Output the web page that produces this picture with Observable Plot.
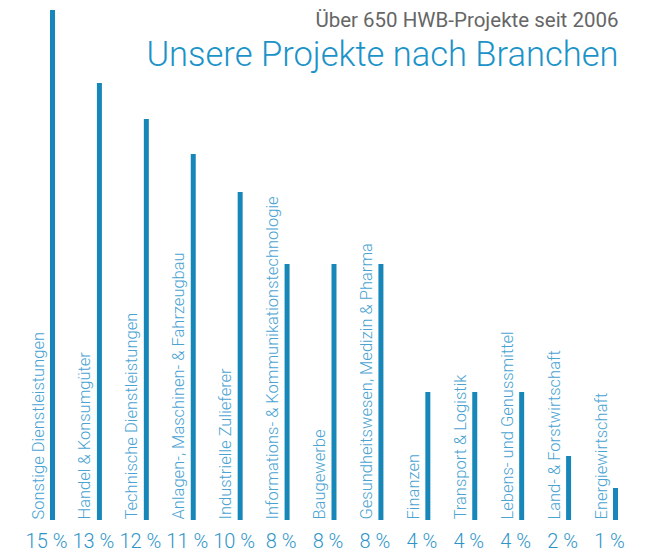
<!DOCTYPE html>
<html>
<head>
<meta charset="utf-8">
<script src="https://cdn.jsdelivr.net/npm/d3@7"></script>
<script src="https://cdn.jsdelivr.net/npm/@observablehq/plot@0.6"></script>
<style>
  html, body { margin: 0; padding: 0; background: #fff; }
  #chart svg { display: block; }
</style>
</head>
<body>
<div id="chart"></div>
<script>
const categories = [
  "Sonstige Dienstleistungen",
  "Handel & Konsumgüter",
  "Technische Dienstleistungen",
  "Anlagen-, Maschinen- & Fahrzeugbau",
  "Industrielle Zulieferer",
  "Informations- & Kommunikationstechnologie",
  "Baugewerbe",
  "Gesundheitswesen, Medizin & Pharma",
  "Finanzen",
  "Transport & Logistik",
  "Lebens- und Genussmittel",
  "Land- & Forstwirtschaft",
  "Energiewirtschaft"
];
// bar heights as drawn in the picture
const values = [15.94, 13.66, 12.53, 11.44, 10.25, 8, 8, 8, 4, 4, 4, 2, 1];
// printed percentage labels
const percentLabels = ["15 %", "13 %", "12 %", "11 %", "10 %", "8 %", "8 %", "8 %", "4 %", "4 %", "4 %", "2 %", "1 %"];
const subtitle = "Über 650 HWB-Projekte seit 2006";
const title = "Unsere Projekte nach Branchen";

const data = categories.map((c, i) => ({category: c, value: values[i], label: percentLabels[i]}));

const barColor = "#1787b9";
const labelColor = "#4aa3d2";
const pctColor = "#2f95c9";
const titleColor = "#1b93c9";
const font = "Roboto, 'DejaVu Sans', sans-serif";

const chart = Plot.plot({
  width: 652,
  height: 552,
  marginTop: 8,
  marginBottom: 32,
  marginLeft: 52,
  marginRight: 37,
  style: {fontFamily: font, background: "#fff", overflow: "visible"},
  x: {type: "point", domain: categories, padding: 0, round: false, axis: null},
  y: {domain: [0, 16], axis: null},
  marks: [
    Plot.ruleX(data, {x: "category", y1: 0, y2: "value", stroke: barColor, strokeWidth: 5}),
    Plot.text(data, {
      x: "category", y: 0, text: "category", rotate: -90,
      textAnchor: "start", lineAnchor: "bottom", dx: -9, dy: -1,
      fill: labelColor, fontSize: 16.5, fontWeight: 300
    }),
    Plot.text(data, {
      x: "category", text: "label", frameAnchor: "bottom",
      lineAnchor: "bottom", dy: 27, dx: -6,
      fill: pctColor, fontSize: 20, fontWeight: 300
    }),
    Plot.text([subtitle], {
      text: d => d, frameAnchor: "top-right", textAnchor: "end",
      lineAnchor: "bottom", dx: 3, dy: 18,
      fill: "#666666", fontSize: 20.5, fontWeight: 400
    }),
    Plot.text([title], {
      text: d => d, frameAnchor: "top-right", textAnchor: "end",
      lineAnchor: "bottom", dx: 3, dy: 57,
      fill: titleColor, fontSize: 34.5, fontWeight: 300
    })
  ]
});
document.getElementById("chart").appendChild(chart);
</script>
</body>
</html>
